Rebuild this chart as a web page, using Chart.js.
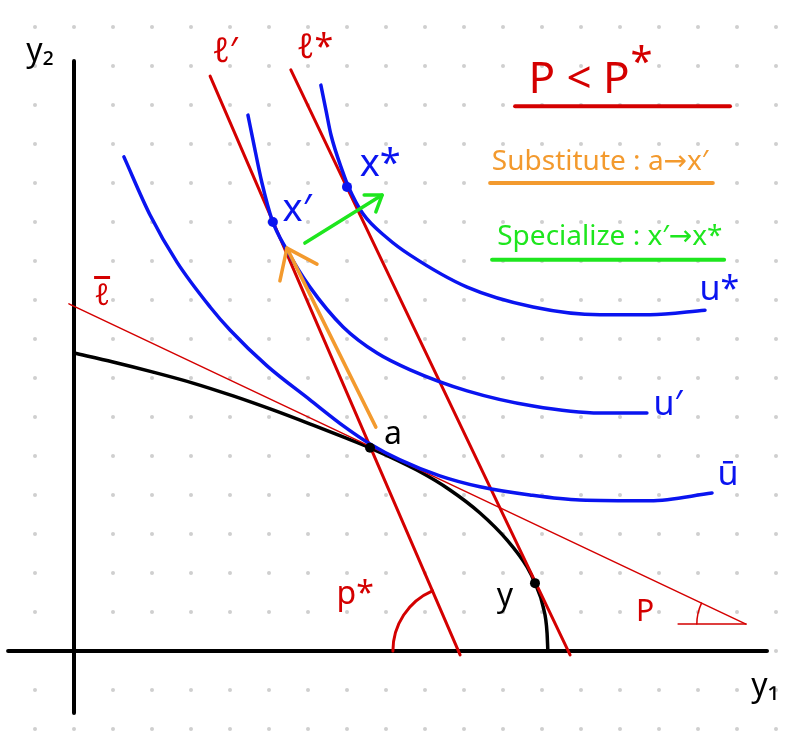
<!DOCTYPE html>
<html>
<head>
<meta charset="utf-8">
<script src="https://cdn.jsdelivr.net/npm/chart.js@4.4.1/dist/chart.umd.min.js"></script>
<style>
  html, body { margin: 0; padding: 0; background: #fff; }
  #wrap { width: 800px; height: 731px; }
</style>
</head>
<body>
<div id="wrap"><canvas id="chart" width="800" height="731"></canvas></div>
<script>
// units: one dot of the background grid = 1
const gridX = [-1, 0, 1, 2, 3, 4, 5, 6, 7, 8, 9, 10, 11, 12, 13, 14, 15, 16, 17, 18];
const gridY = [-2, -1, 0, 1, 2, 3, 4, 5, 6, 7, 8, 9, 10, 11, 12, 13, 14, 15, 16];

// axes
const axisY2X = [0, 0];
const axisY2Y = [15.13, -1.59];
const axisY1X = [-1.69, 17.77];
const axisY1Y = [0, 0];

// production possibility frontier
const ppfX = [0, 1.00, 2.03, 3.05, 4.08, 5.10, 6.13, 6.90, 7.59, 8.79, 9.64, 10.41, 11.10, 11.62, 11.82, 12.03, 12.13, 12.15];
const ppfY = [7.64, 7.41, 7.15, 6.87, 6.54, 6.18, 5.79, 5.49, 5.21, 4.64, 4.13, 3.54, 2.85, 2.15, 1.74, 1.13, 0.46, 0];

// indifference curves
const uBarX = [1.28, 1.95, 2.64, 3.49, 4.00, 4.95, 6.05, 6.95, 7.59, 8.36, 9.38, 10.41, 11.69, 12.97, 14.77, 16.36];
const uBarY = [12.67, 11.18, 9.97, 8.82, 8.23, 7.31, 6.44, 5.74, 5.31, 4.90, 4.49, 4.21, 4.00, 3.87, 3.85, 4.05];
const uPrimeX = [4.46, 4.59, 4.82, 5.08, 5.46, 6.05, 6.90, 7.77, 8.62, 10.08, 11.77, 13.49, 14.69];
const uPrimeY = [13.74, 13.10, 12.00, 11.05, 10.28, 9.33, 8.31, 7.64, 7.21, 6.67, 6.28, 6.10, 6.10];
const uStarX = [6.33, 6.46, 6.59, 6.90, 7.03, 7.41, 8.03, 8.62, 10.08, 11.77, 13.49, 14.77, 16.18];
const uStarY = [14.51, 13.87, 13.23, 12.26, 11.92, 11.21, 10.59, 10.15, 9.33, 8.82, 8.62, 8.62, 8.74];

// price lines
const lBarX = [-0.13, 17.23];
const lBarY = [8.90, 0.69];
const lPrimeX = [3.49, 9.90];
const lPrimeY = [14.74, -0.10];
const lStarX = [5.56, 12.72];
const lStarY = [14.90, -0.10];
const pBaseX = [15.49, 17.23];
const pBaseY = [0.69, 0.69];

// arrows (tail -> tip) and heads (arm, tip, arm)
const subArrowX = [7.74, 5.46];
const subArrowY = [5.74, 10.33];
const subHeadX = [5.28, 5.46, 6.23];
const subHeadY = [9.49, 10.33, 9.92];
const specArrowX = [5.92, 7.90];
const specArrowY = [10.46, 11.69];
const specHeadX = [7.44, 7.90, 7.74];
const specHeadY = [11.69, 11.69, 11.26];

// marked points: x', x*, a, y
const blueDotX = [5.10, 7.00];
const blueDotY = [11.00, 11.90];
const blackDotX = [7.59, 11.82];
const blackDotY = [5.21, 1.74];

// underlines of the notes
const titleLineX = [11.31, 16.82];
const titleLineY = [13.97, 13.97];
const subLineX = [10.67, 16.38];
const subLineY = [12.0, 12.0];
const specLineX = [10.72, 16.67];
const specLineY = [10.03, 10.03];

const RED = '#d40000';
const BLUE = '#0a14f0';
const ORANGE = '#f39a2e';
const GREEN = '#1ee61e';
const FONT = '"Noto Sans", "DejaVu Sans", sans-serif';

const zip = (xs, ys) => xs.map((x, i) => ({ x: x, y: ys[i] }));

const gridPts = [];
gridY.forEach(y => gridX.forEach(x => gridPts.push({ x: x, y: y })));

function line(xs, ys, color, width, smooth) {
    return {
        data: zip(xs, ys),
        showLine: true,
        borderColor: color,
        borderWidth: width,
        pointRadius: 0,
        cubicInterpolationMode: smooth ? 'monotone' : 'default',
        tension: 0,
        borderCapStyle: 'round',
        borderJoinStyle: 'round',
        clip: false
    };
}

function dots(xs, ys, color) {
    return {
        data: zip(xs, ys),
        showLine: false,
        pointRadius: 5,
        backgroundColor: color,
        borderColor: color,
        borderWidth: 0
    };
}

const labels = [
    { t: 'y₂', x: -0.87, y: 15.36, c: '#000', s: 32 },
    { t: 'y₁', x: 17.72, y: -0.92, c: '#000', s: 32 },
    { t: 'ℓ′', x: 3.87, y: 15.36, c: RED, s: 34 },
    { t: 'ℓ*', x: 6.18, y: 15.46, c: RED, s: 34 },
    { t: 'ℓ', x: 0.72, y: 9.10, c: RED, s: 30, bar: true },
    { t: 'x′', x: 5.72, y: 11.30, c: BLUE, s: 38 },
    { t: 'x*', x: 7.85, y: 12.46, c: BLUE, s: 38 },
    { t: 'u*', x: 16.55, y: 9.26, c: BLUE, s: 34 },
    { t: 'u′', x: 15.23, y: 6.31, c: BLUE, s: 34 },
    { t: 'ū', x: 16.77, y: 4.51, c: BLUE, s: 34 },
    { t: 'a', x: 8.18, y: 5.54, c: '#000', s: 32 },
    { t: 'y', x: 11.05, y: 1.38, c: '#000', s: 32 },
    { t: 'p*', x: 7.21, y: 1.44, c: RED, s: 32 },
    { t: 'P', x: 14.64, y: 1.0, c: RED, s: 30 },
    { t: 'P < P', x: 12.95, y: 14.62, c: RED, s: 44, w: 125 },
    { t: '*', x: 14.55, y: 15.05, c: RED, s: 40 },
    { t: 'Substitute : a→x′', x: 13.49, y: 12.54, c: ORANGE, s: 28, w: 222 },
    { t: 'Specialize : x′→x*', x: 13.74, y: 10.62, c: GREEN, s: 28, w: 230 }
];

const notesPlugin = {
    id: 'notes',
    afterDatasetsDraw(chart) {
        const ctx = chart.ctx;
        const sx = chart.scales.x;
        const sy = chart.scales.y;
        const px = v => sx.getPixelForValue(v);
        const py = v => sy.getPixelForValue(v);

        // angle arcs at the x-axis (p*) and at the end of l-bar (P)
        function angleArc(cx, cy, ex, ey, r, width) {
            const c = [px(cx), py(cy)];
            const a = Math.atan2(py(ey) - c[1], px(ex) - c[0]);
            const rad = px(cx + r) - c[0];
            ctx.save();
            ctx.strokeStyle = RED;
            ctx.lineWidth = width;
            ctx.lineCap = 'round';
            ctx.beginPath();
            ctx.arc(c[0], c[1], rad, -Math.PI, a);
            ctx.stroke();
            ctx.restore();
        }
        const t = (0 - lPrimeY[1]) / (lPrimeY[0] - lPrimeY[1]);
        const interX = lPrimeX[1] + t * (lPrimeX[0] - lPrimeX[1]);
        angleArc(interX, 0, lPrimeX[0], lPrimeY[0], 1.68, 3);
        angleArc(lBarX[1], lBarY[1], lBarX[0], lBarY[0], 1.26, 1.5);

        ctx.save();
        ctx.textAlign = 'center';
        ctx.textBaseline = 'middle';
        labels.forEach(l => {
            ctx.fillStyle = l.c;
            ctx.font = l.s + 'px ' + FONT;
            if (l.w) {
                ctx.fillText(l.t, px(l.x), py(l.y), l.w);
            } else {
                ctx.fillText(l.t, px(l.x), py(l.y));
            }
            if (l.bar) {
                ctx.strokeStyle = l.c;
                ctx.lineWidth = 3;
                ctx.beginPath();
                ctx.moveTo(px(l.x) - 8, py(l.y) - l.s * 0.62);
                ctx.lineTo(px(l.x) + 8, py(l.y) - l.s * 0.62);
                ctx.stroke();
            }
        });
        ctx.restore();
    }
};

new Chart(document.getElementById('chart'), {
    type: 'scatter',
    data: {
        datasets: [
            dots(blueDotX, blueDotY, BLUE),
            dots(blackDotX, blackDotY, '#000'),
            line(subArrowX, subArrowY, ORANGE, 3.5),
            line(subHeadX, subHeadY, ORANGE, 3.5),
            line(specArrowX, specArrowY, GREEN, 3.5),
            line(specHeadX, specHeadY, GREEN, 3.5),
            line(uBarX, uBarY, BLUE, 3.5, true),
            line(uPrimeX, uPrimeY, BLUE, 3.5, true),
            line(uStarX, uStarY, BLUE, 3.5, true),
            line(lPrimeX, lPrimeY, RED, 3),
            line(lStarX, lStarY, RED, 3),
            line(lBarX, lBarY, RED, 1.5),
            line(pBaseX, pBaseY, RED, 1.5),
            line(ppfX, ppfY, '#000', 3.5, true),
            line(titleLineX, titleLineY, RED, 4),
            line(subLineX, subLineY, ORANGE, 4),
            line(specLineX, specLineY, GREEN, 4),
            line(axisY2X, axisY2Y, '#000', 4),
            line(axisY1X, axisY1Y, '#000', 4),
            {
                data: gridPts,
                showLine: false,
                pointRadius: 2,
                backgroundColor: '#cfcfcf',
                borderWidth: 0
            }
        ]
    },
    options: {
        responsive: false,
        animation: false,
        layout: { padding: 0, autoPadding: false },
        plugins: {
            legend: { display: false },
            tooltip: { enabled: false }
        },
        scales: {
            x: { type: 'linear', min: -74 / 39, max: 726 / 39, display: false },
            y: { type: 'linear', min: -80 / 39, max: 651 / 39, display: false }
        }
    },
    plugins: [notesPlugin]
});
</script>
</body>
</html>
